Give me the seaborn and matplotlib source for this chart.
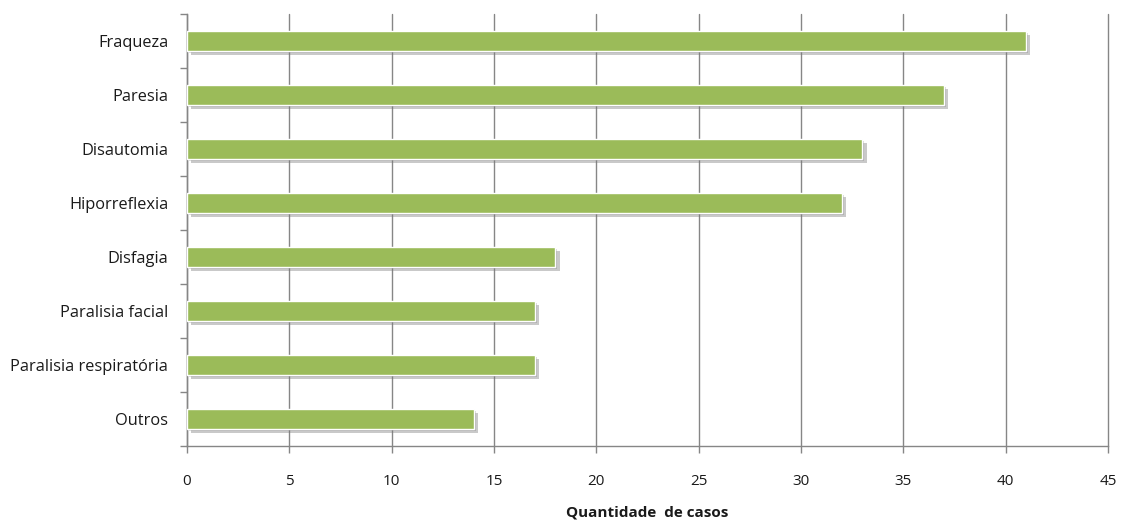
import matplotlib
matplotlib.use("Agg")
import matplotlib.pyplot as plt
import matplotlib.patheffects as pe
from matplotlib.ticker import FixedLocator
import seaborn as sns
import pandas as pd

categories = ["Fraqueza", "Paresia", "Disautomia", "Hiporreflexia", "Disfagia",
              "Paralisia facial", "Paralisia respiratória", "Outros"]
values = [41, 37, 33, 32, 18, 17, 17, 14]
x_ticks = [0, 5, 10, 15, 20, 25, 30, 35, 40, 45]
x_label = "Quantidade  de casos"

sns.set_style("white")
plt.rcParams["font.family"] = ["Open Sans", "DejaVu Sans"]

df = pd.DataFrame({"cat": categories, "val": values})

fig = plt.figure(figsize=(11.21, 5.22), dpi=100)
ax = fig.add_axes([187/1121, 76/522, (1108-187)/1121, (446-14)/522])

sns.barplot(data=df, x="val", y="cat", orient="h", color="#9BBB59", width=0.36,
            saturation=1, ax=ax, zorder=3)

for p in ax.patches:
    p.set_edgecolor("white")
    p.set_linewidth(1.0)
    p.set_path_effects([pe.SimplePatchShadow(offset=(3, -3), shadow_rgbFace="#7a7a7a", alpha=0.4),
                        pe.SimplePatchShadow(offset=(1.5, -1.5), shadow_rgbFace="#7a7a7a", alpha=0.3),
                        pe.Normal()])

ax.set_xlim(0, 45)
ax.set_ylim(len(categories) - 0.5, -0.5)
ax.set_xticks(x_ticks)
ax.set_xticklabels([str(t) for t in x_ticks], fontsize=11, color="#1a1a1a")
ax.tick_params(axis="x", which="major", bottom=True, length=5, width=1, color="#868686",
               pad=15, direction="out")
ax.xaxis.grid(True, color="#868686", linewidth=1, zorder=0)
for gl in ax.get_xgridlines():
    gl.set_clip_on(False)
ax.set_axisbelow(True)

ax.tick_params(axis="y", which="major", left=True, length=0, pad=13.5, labelsize=11.8,
               labelcolor="#1a1a1a")
ax.yaxis.set_minor_locator(FixedLocator([i - 0.5 for i in range(len(categories) + 1)]))
ax.tick_params(axis="y", which="minor", left=True, length=5, width=1, color="#868686",
               direction="out")

for s in ["top", "right"]:
    ax.spines[s].set_visible(False)
for s in ["left", "bottom"]:
    ax.spines[s].set_color("#868686")
    ax.spines[s].set_linewidth(1)

ax.set_ylabel("")
ax.set_xlabel(x_label, fontsize=11, fontweight="bold", color="#1a1a1a", labelpad=12)

fig.savefig("out.png", dpi=100)
